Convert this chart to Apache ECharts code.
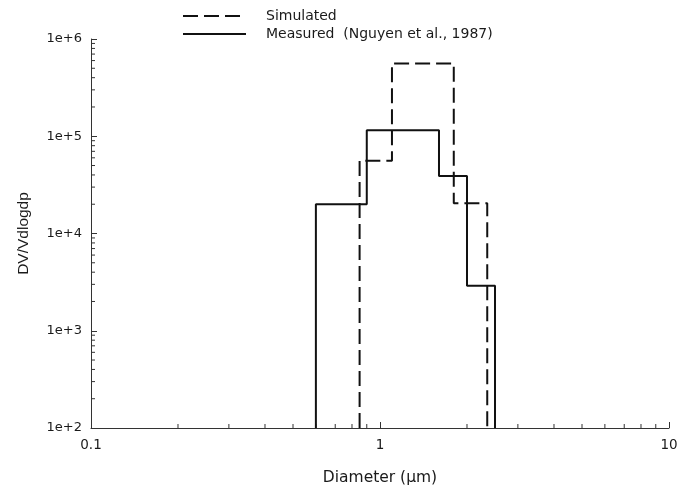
<!DOCTYPE html>
<html>
<head>
<meta charset="utf-8">
<script src="https://cdn.jsdelivr.net/npm/echarts@6/dist/echarts.min.js"></script>
<style>
html,body{margin:0;padding:0;background:#fff;}
#chart{width:681px;height:491px;}
</style>
</head>
<body>
<div id="chart"></div>
<script>
// Measured (Nguyen et al., 1987): bin edges (µm) and DV/Vdlogdp per bin
var measuredEdges = [0.6, 0.9, 1.6, 2.0, 2.5];
var measuredValues = [2.0e4, 1.15e5, 3.9e4, 2.9e3];
// Simulated
var simulatedEdges = [0.85, 1.1, 1.8, 2.35];
var simulatedValues = [5.6e4, 5.6e5, 2.05e4];
// axes
var xTicks = [0.1, 1, 10];
var yTicks = [1e2, 1e3, 1e4, 1e5, 1e6];
var yMin = 100, yMax = 1e6, xMin = 0.1, xMax = 10;

function histPoints(edges, values) {
  var pts = [[edges[0], yMin]];
  for (var i = 0; i < values.length; i++) {
    pts.push([edges[i], values[i]]);
    pts.push([edges[i + 1], values[i]]);
  }
  pts.push([edges[edges.length - 1], yMin]);
  return pts;
}

// minor tick positions (2..9 within each decade)
var xMinor = [], yMinor = [];
[0.1, 1].forEach(function (d) { for (var k = 2; k <= 9; k++) xMinor.push([+(d * k).toPrecision(3), yMin]); });
[1e2, 1e3, 1e4, 1e5].forEach(function (d) { for (var k = 2; k <= 9; k++) yMinor.push([xMin, d * k]); });

var txt = '#1a1a1a';
var chart = echarts.init(document.getElementById('chart'));
chart.setOption({
  animation: false,
  backgroundColor: '#fff',
  grid: { left: 91, right: 12, top: 39, bottom: 62 },
  legend: {
    orient: 'vertical', left: 177, top: 4,
    itemWidth: 63, itemHeight: 14, itemGap: 4,
    data: ['Simulated', 'Measured  (Nguyen et al., 1987)'],
    itemStyle: { color: 'rgba(0,0,0,0)', borderColor: 'rgba(0,0,0,0)', borderWidth: 0, opacity: 0 },
    textStyle: { fontFamily: 'DejaVu Sans', fontSize: 14, color: txt, padding: [0, 0, 0, 15] }
  },
  xAxis: {
    type: 'log', logBase: 10, min: xMin, max: xMax,
    name: 'Diameter (\u03bcm)', nameLocation: 'middle', nameGap: 42,
    nameTextStyle: { fontFamily: 'DejaVu Sans', fontSize: 15.5, color: txt },
    axisLine: { lineStyle: { color: '#333', width: 1 } },
    axisTick: { inside: true, length: 6, lineStyle: { color: '#333' } },
    axisLabel: { fontFamily: 'DejaVu Sans', fontSize: 13.5, color: txt, margin: 10,
      formatter: function (v) { return String(+v.toPrecision(3)); } },
    splitLine: { show: false }
  },
  yAxis: {
    type: 'log', logBase: 10, min: yMin, max: yMax, splitNumber: 4,
    name: 'DV/Vdlogdp', nameLocation: 'middle', nameGap: 59,
    nameTextStyle: { fontFamily: 'Liberation Sans', fontSize: 15.5, color: txt },
    axisLine: { show: true, lineStyle: { color: '#333', width: 1 } },
    axisTick: { show: true, inside: true, length: 6, lineStyle: { color: '#333' } },
    axisLabel: { fontFamily: 'DejaVu Sans', fontSize: 13, color: txt, margin: 9,
      formatter: function (v) { return '1e+' + Math.round(Math.log10(v)); } },
    splitLine: { show: false }
  },
  series: [
    {
      name: 'Simulated', type: 'line', symbol: 'none', z: 3,
      data: histPoints(simulatedEdges, simulatedValues),
      lineStyle: { color: '#111', width: 2, type: [15, 6] },
      itemStyle: { color: '#111' }
    },
    {
      name: 'Measured  (Nguyen et al., 1987)', type: 'line', symbol: 'none', z: 4,
      data: histPoints(measuredEdges, measuredValues),
      lineStyle: { color: '#111', width: 2, type: 'solid' },
      itemStyle: { color: '#111' }
    },
    {
      name: 'xMinor', type: 'custom', silent: true, clip: false,
      data: xMinor, encode: { x: 0, y: 1 },
      renderItem: function (params, api) {
        var p = api.coord([api.value(0), api.value(1)]);
        return { type: 'line', shape: { x1: p[0], y1: p[1], x2: p[0], y2: p[1] - 4 },
          style: { stroke: '#333', lineWidth: 1 } };
      }
    },
    {
      name: 'yMinor', type: 'custom', silent: true, clip: false,
      data: yMinor, encode: { x: 0, y: 1 },
      renderItem: function (params, api) {
        var p = api.coord([api.value(0), api.value(1)]);
        return { type: 'line', shape: { x1: p[0], y1: p[1], x2: p[0] + 4, y2: p[1] },
          style: { stroke: '#333', lineWidth: 1 } };
      }
    }
  ]
});
</script>
</body>
</html>
